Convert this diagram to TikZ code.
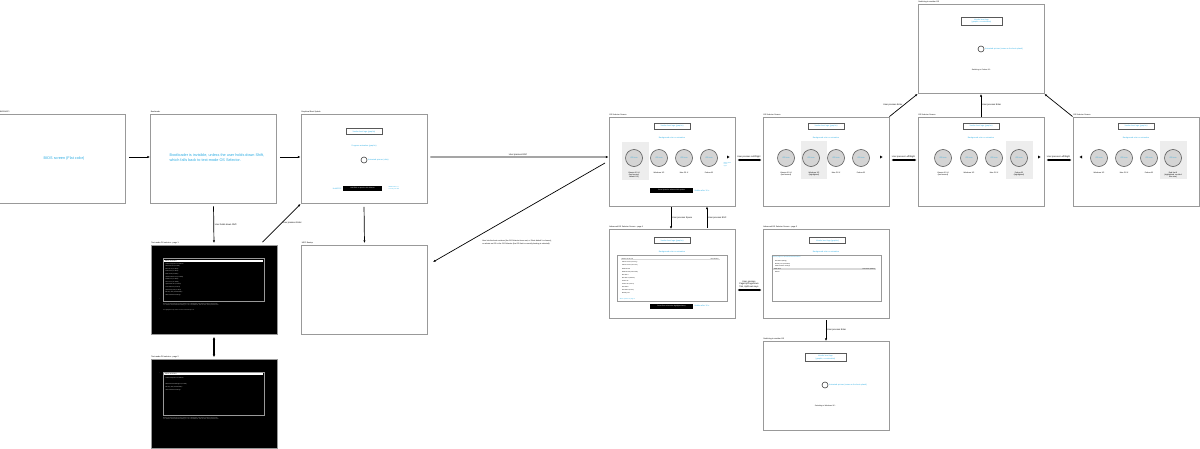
\documentclass[tikz,border=0pt]{standalone}
\usepackage{fontspec}
\setmainfont{Liberation Sans}
\usetikzlibrary{arrows.meta}
\definecolor{uiblue}{RGB}{41,171,226}
\tikzstyle{screen}=[draw=black!40,line width=0.9mm,minimum width=126mm,minimum height=89mm,inner sep=0pt]
\tikzstyle{dark screen}=[screen,fill=black]
\tikzstyle{caption}=[anchor=south west,inner sep=0.7mm,font=\fontsize{5.5}{6.5}\selectfont]
\tikzstyle{hint}=[text=uiblue,font=\fontsize{10.8}{13.5}\selectfont,align=left]
\tikzstyle{small hint}=[text=uiblue,font=\fontsize{5.5}{6.5}\selectfont,align=left,inner sep=0.5mm]
\tikzstyle{logo box}=[draw=black!65,line width=0.6mm,text=uiblue,font=\fontsize{5.5}{6.5}\selectfont,align=center,minimum width=36mm,minimum height=6mm,inner sep=0.5mm]
\tikzstyle{black bar}=[fill=black,text=white,font=\fontsize{4.5}{5}\selectfont,minimum width=43mm,minimum height=5mm,inner sep=0.3mm]
\tikzstyle{os icon}=[circle,draw=black!65,line width=0.6mm,fill=black!17,minimum size=17mm,inner sep=0pt,text=uiblue,font=\fontsize{5.5}{6}\selectfont]
\tikzstyle{os name}=[anchor=north,align=center,inner sep=0pt,font=\fontsize{5.3}{6.2}\selectfont]
\tikzstyle{selected os}=[fill=black!7]
\tikzstyle{spinner}=[circle,draw=black!75,line width=0.6mm,minimum size=6mm,inner sep=0pt]
\tikzstyle{list frame}=[draw=black!40,line width=0.6mm]
\tikzstyle{tm line}=[anchor=west,inner sep=0pt,text=black!15,font=\fontsize{4}{4.5}\selectfont]
\tikzstyle{tm selected}=[anchor=west,fill=white,text=black,text width=97mm,inner xsep=1mm,inner ysep=0.3mm,font=\fontsize{4}{4.5}\selectfont]
\tikzstyle{tm note}=[anchor=west,align=left,inner sep=0pt,text=black!15,font=\fontsize{3.5}{4.2}\selectfont]
\tikzstyle{adv line}=[anchor=west,inner sep=0pt,font=\fontsize{4}{4.5}\selectfont]
\tikzstyle{adv selected}=[anchor=west,fill=black!15,text width=97mm,inner xsep=1mm,inner ysep=0.2mm,font=\fontsize{4}{4.5}\selectfont]
\tikzstyle{link}=[draw,line width=0.7mm,-{Latex[length=2.6mm,width=2.2mm]}]
\tikzstyle{both link}=[draw,line width=1.1mm,{Latex[length=2.6mm,width=2.6mm]}-{Latex[length=2.6mm,width=2.6mm]}]
\tikzstyle{link label}=[inner sep=0.8mm,align=left,font=\fontsize{6.3}{7.3}\selectfont]

\begin{document}
\begin{tikzpicture}[x=1mm,y=-1mm]
    \useasboundingbox (0,0) rectangle (1200,449);

    % Screens
    \foreach \pos/\name in {{(62.5,158.5)/bios}, {(213.5,158.5)/boot}, {(364,159)/splash},
                            {(364.5,290)/uefi}, {(672,161.5)/osone}, {(826,161.5)/ostwo},
                            {(981,161.5)/osthree}, {(1136,161.5)/osfour}, {(981,49)/swtop},
                            {(672,274)/advone}, {(826,273.5)/advtwo}, {(826,386)/swbot}}
        \node[screen] (\name) at \pos {};
    \foreach \pos/\name in {{(214,290)/tmone}, {(214,404)/tmtwo}}
        \node[dark screen] (\name) at \pos {};

    % Screen titles
    \foreach \name/\title in {bios/{BIOS/UEFI}, boot/Bootloader, splash/Graphical Boot Splash,
                              tmone/Text-mode OS selector - page 1, tmtwo/Text-mode OS selector - page 2,
                              uefi/UEFI Bootup, osone/OS Selector Screen, ostwo/OS Selector Screen,
                              osthree/OS Selector Screen, osfour/OS Selector Screen,
                              swtop/Switching to another OS, advone/Advanced OS Selector Screen - page 1,
                              advtwo/Advanced OS Selector Screen - page 2, swbot/Switching to another OS}
        \node[caption] (\name-title) at (\name.north west) {\title};

    % BIOS and bootloader
    \node[hint] (bios-text) at (64,159) {BIOS screen (Flat color)};
    \node[hint] (boot-text) at (217,157.5) {Bootloader is invisible, unless the user holds down Shift,\\which falls back to text-mode OS Selector.};

    % Boot splash
    \node[logo box] (splash-logo) at (364,131.5) {Vendor boot logo (graphic)};
    \node[small hint] (splash-anim) at (364,146) {Progress animation (graphic)};
    \node[spinner] (splash-spin) at (364,160) {};
    \node[small hint, anchor=west] (splash-spintext) at (367.5,160) {Animated spinner (dots)};
    \node[black bar, minimum width=39mm] (splash-bar) at (362.5,188.5) {Hold ESC to open the OS Selector};
    \node[small hint, anchor=east] (splash-hold) at (342,188.5) {Hold ESC};
    \node[small hint, anchor=west, font=\fontsize{4}{4.5}\selectfont] (splash-hide) at (388,188) {Hidden after 3 s,\\or if only one OS};

    % Text-mode selector, page 1
    \draw[list frame] (163,258) rectangle (264,301);
    \node[tm selected] (tmone-sel) at (164,261) {Ubuntu 20.04 LTS};
    \foreach \entry [count=\k from 0] in {Advanced options for Ubuntu, Windows XP (on sda1), Mac OS X (on sda3),
                                          Fedora 32 (on sda4), Red Hat 8 (on sda5), Ubuntu 18.04 LTS (on sdb1),
                                          Debian 10 (on sdb2), Arch Linux (on sdb3), openSUSE 15 (on sdb4),
                                          Linux Mint 20 (on sdc1), elementary OS (on sdc2),
                                          Memory test (memtest86+), UEFI Firmware Settings}
        \node[tm line] (tmone-\k) at (165.5,{263.7+2.6*\k}) {\entry};
    \node[tm line, text=white] (tmone-more) at (159.5,299) {↓};
    \node[tm note] (tmone-help) at (163,304.6) {Use the Up and Down keys to select which entry is highlighted. Press Enter to boot the selected OS,\\'e' to edit the commands before booting or 'c' for a command-line. ESC to return to the previous menu.};
    \node[tm note] (tmone-auto) at (163,310) {The highlighted entry will be executed automatically in 5s.};

    % Text-mode selector, page 2
    \draw[list frame] (163,372) rectangle (264,415);
    \node[tm selected] (tmtwo-sel) at (164,374.3) {Ubuntu 20.04 LTS};
    \foreach \y/\entry in {377.7/Advanced options for Ubuntu, 383.7/Windows Boot Manager (on sda1),
                           387.3/Memory test (memtest86+), 390/UEFI Firmware Settings}
        \node[tm line] (tmtwo-\y) at (165.5,\y) {\entry};
    \node[tm line, text=white] (tmtwo-up) at (159.5,373) {↑};
    \node[tm note] (tmtwo-help) at (163,418.6) {Use the Up and Down keys to select which entry is highlighted. Press Enter to boot the selected OS,\\'e' to edit the commands before booting or 'c' for a command-line. ESC to return to the previous menu.};

    % OS selector screens
    \foreach \name in {osone,ostwo,osthree,osfour} {
        \node[logo box] (\name-logo) at ([yshift=35.5mm]\name.center) {Vendor boot logo (graphic)};
        \node[small hint] (\name-bg) at ([yshift=23.5mm]\name.center) {Background color or animation};
    }

    % Screen 1
    \fill[selected os] (622,142) rectangle (649,180);
    \foreach \x/\n in {634/1, 659/2, 684/3, 709/4}
        \node[os icon] (osone-\n) at (\x,158) {OS icon};
    \node[os name] (osone-name1) at (634,172) {Ubuntu 20.04\\(last booted,\\default OS)};
    \node[os name] (osone-name2) at (659,172) {Windows XP};
    \node[os name] (osone-name3) at (684,172) {Mac OS X};
    \node[os name] (osone-name4) at (709,172) {Fedora 32};
    \fill (727,155.5) -- (729.5,157) -- (727,158.5) -- cycle;
    \node[small hint, font=\fontsize{4}{4.6}\selectfont] (osone-more) at (727.5,164.5) {More OSes\\to the\\right};
    \node[black bar] (osone-bar) at (671.5,190.5) {Press Space for advanced OS options};
    \node[small hint, anchor=west] (osone-hide) at (694,190.5) {Hidden after 10 s};

    % Screen 2
    \fill[selected os] (801,141) rectangle (827,179);
    \foreach \x/\n in {786/1, 811/2, 836/3, 861/4}
        \node[os icon] (ostwo-\n) at (\x,158) {OS icon};
    \node[os name] (ostwo-name1) at (786,172) {Ubuntu 20.04\\(last booted)};
    \node[os name] (ostwo-name2) at (814,172) {Windows XP\\(highlighted)};
    \node[os name] (ostwo-name3) at (836,172) {Mac OS X};
    \node[os name] (ostwo-name4) at (861,172) {Fedora 32};
    \fill (880,155.5) -- (882.5,157) -- (880,158.5) -- cycle;

    % Screen 3
    \fill[selected os] (1006,141) rectangle (1033,179);
    \foreach \x/\n in {943/1, 969/2, 994/3, 1019/4}
        \node[os icon] (osthree-\n) at (\x,158) {OS icon};
    \node[os name] (osthree-name1) at (943,172) {Ubuntu 20.04\\(last booted)};
    \node[os name] (osthree-name2) at (969,172) {Windows XP};
    \node[os name] (osthree-name3) at (994,172) {Mac OS X};
    \node[os name] (osthree-name4) at (1019,172) {Fedora 32\\(highlighted)};
    \fill (1038,155.5) -- (1040.5,157) -- (1038,158.5) -- cycle;

    % Screen 4
    \fill[selected os] (1160,141) rectangle (1187,179);
    \foreach \x/\n in {1099/1, 1124/2, 1149/3, 1173/4}
        \node[os icon] (osfour-\n) at (\x,158) {OS icon};
    \node[os name] (osfour-name1) at (1099,172) {Windows XP};
    \node[os name] (osfour-name2) at (1124,172) {Mac OS X};
    \node[os name] (osfour-name3) at (1149,172) {Fedora 32};
    \node[os name] (osfour-name4) at (1173,172) {Red Hat 8\\(highlighted, scrolled\\into view)};
    \fill (1082,155.5) -- (1079.5,157) -- (1082,158.5) -- cycle;

    % Switching screens
    \node[logo box, minimum width=41mm, minimum height=8mm] (swtop-logo) at (981.5,21) {Vendor boot logo\\(graphic, no animation)};
    \node[spinner] (swtop-spin) at (981,49) {};
    \node[small hint, anchor=west] (swtop-spintext) at (984.5,49) {Animated spinner (same as the boot splash)};
    \node[font=\fontsize{5}{6}\selectfont] (swtop-msg) at (981.5,70) {Switching to Fedora 32...};

    \node[logo box, minimum width=41mm, minimum height=8mm] (swbot-logo) at (825.5,357.5) {Vendor boot logo\\(graphic, no animation)};
    \node[spinner] (swbot-spin) at (825,385) {};
    \node[small hint, anchor=west] (swbot-spintext) at (828.5,385) {Animated spinner (same as the boot splash)};
    \node[font=\fontsize{5}{6}\selectfont] (swbot-msg) at (825.5,406) {Switching to Windows XP...};

    % Advanced selector, page 1
    \node[logo box] (advone-logo) at (672,240.5) {Vendor boot logo (graphic)};
    \node[small hint] (advone-bg) at (672,252) {Background color or animation};
    \draw[list frame] (617,255) rectangle (727,301);
    \node[adv selected] (advone-sel) at (620.5,259.3) {Ubuntu 20.04 LTS};
    \node[adv line, anchor=east] (advone-default) at (718.5,259.3) {Boot default};
    \foreach \entry [count=\k from 1] in {Ubuntu 20.04 (recovery), Ubuntu 20.04 (Linux 5.4), Windows XP,
                                          Windows XP (safe mode), Mac OS X, Mac OS X (verbose), Fedora 32,
                                          Fedora 32 (rescue), Red Hat 8, Red Hat 8 (rescue), Memory test}
        \node[adv line] (advone-\k) at (622,{259.3+3.1*\k}) {\entry};
    \node[small hint, anchor=west, font=\fontsize{4}{4.6}\selectfont] (advone-next) at (618.5,299) {↓ More options on page 2};
    \node[black bar] (advone-bar) at (671.5,306) {Press Enter to boot the highlighted entry};
    \node[small hint, anchor=west] (advone-hide) at (694,306) {Hidden after 10 s};

    % Advanced selector, page 2
    \node[logo box] (advtwo-logo) at (827.5,240.5) {Vendor boot logo (graphic)};
    \node[small hint] (advtwo-bg) at (826,252) {Background color or animation};
    \draw[list frame] (772,255) rectangle (881,301);
    \node[small hint, anchor=west, font=\fontsize{4}{4.6}\selectfont] (advtwo-back) at (771,257.3) {↑ Back to page 1 of the Advanced OS Selector};
    \node[adv selected, text width=101mm] (advtwo-sel) at (773,269) {UEFI shell};
    \node[adv line, anchor=east] (advtwo-driver) at (875,269) {Load driver (default)};
    \foreach \y/\entry in {261/Red Hat 8 (debug), 263.7/Memory test (extended),
                           266.3/UEFI Firmware Settings, 271.7/Reboot}
        \node[adv line] (advtwo-\y) at (775,\y) {\entry};

    % Links
    \coordinate (osel-out) at (605,163);
    \coordinate (uefi-in) at (433,262);
    \draw[link, shorten <=3mm] ([yshift=1.5mm]bios.east) -- ([yshift=1.5mm]boot.west);
    \draw[link, shorten <=3mm] ([yshift=1.5mm]boot.east) -- ([yshift=2mm]splash.west);
    \draw[link, shorten <=3mm] ([yshift=2mm]splash.east) -- ([yshift=4.5mm]osone.west)
        node[link label, midway, above] {User presses ESC};
    \draw[link, shorten <=3mm, shorten >=2mm] (boot.south) -- (tmone.north)
        node[link label, midway, right] {User holds down Shift};
    \draw[link, shorten <=3mm, shorten >=2mm] (splash.south) -- (uefi.north);
    \draw[both link, shorten <=2mm, shorten >=2mm] (tmone.south) -- (tmtwo.north);
    \draw[link] ([xshift=-15mm,yshift=3mm]tmone.north east) -- (splash.south west)
        node[link label, midway, right] {User presses Enter};
    \draw[link] (osel-out) -- (uefi-in)
        node[link label, pos=0.72, anchor=north west, yshift=-5mm, font=\fontsize{5.4}{6.4}\selectfont] {User lets the boot continue (the OS Selector times out, or 'Boot default' is chosen),\\or selects an OS in the OS Selector (the OS that is currently booting is selected).};
    \draw[both link, shorten <=2mm, shorten >=1mm] ([yshift=1.5mm]osone.east) -- ([yshift=1.5mm]ostwo.west)
        node[link label, midway, above, yshift=1mm] {User presses Left/Right};
    \draw[both link, shorten <=2mm, shorten >=1mm] ([yshift=1.5mm]ostwo.east) -- ([yshift=1.5mm]osthree.west)
        node[link label, midway, above, yshift=1mm] {User presses Left/Right};
    \draw[both link, shorten <=2mm, shorten >=1mm] ([yshift=1.5mm]osthree.east) -- ([yshift=1.5mm]osfour.west)
        node[link label, midway, above, yshift=1mm] {User presses Left/Right};
    \draw[link] (ostwo.north east) -- (swtop.south west)
        node[link label, midway, left] {User presses Enter};
    \draw[link] (osthree.north) -- (swtop.south)
        node[link label, midway, right] {User presses Enter};
    \draw[link] (osfour.north west) -- (swtop.south east);
    \draw[link, shorten <=1mm] ([xshift=-1mm]osone.south) -- ([xshift=-1mm]advone.north)
        node[link label, midway, right] {User presses Space};
    \draw[link, shorten <=1mm] ([xshift=35mm]advone.north) -- ([xshift=35mm]osone.south)
        node[link label, midway, right] {User presses ESC};
    \draw[both link, shorten <=2mm, shorten >=1mm] ([yshift=-16mm]advone.east) -- ([yshift=-16.5mm]advtwo.west)
        node[link label, midway, above, align=center, yshift=1mm] {User presses\\PageUp/PageDown\\Tab, Up/Down keys};
    \draw[link, shorten <=2mm] (advtwo.south) -- (swbot.north)
        node[link label, midway, right] {User presses Enter};

\end{tikzpicture}
\end{document}
